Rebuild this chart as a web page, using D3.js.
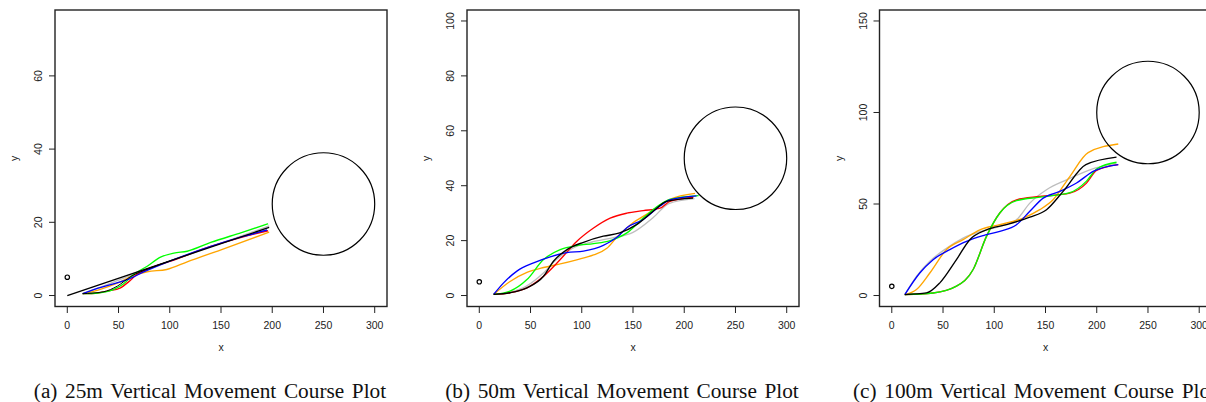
<!DOCTYPE html>
<html>
<head>
<meta charset="utf-8">
<script src="https://cdn.jsdelivr.net/npm/d3@7"></script>
<style>
  body { margin: 0; background: #fff; }
  svg { display: block; }
  .tick-label, .axis-title { font-family: "Liberation Sans", Arial, sans-serif; font-size: 10.5px; fill: #222; }
  .caption { font-family: "Liberation Serif", "Times New Roman", serif; font-size: 21.3px; word-spacing: 2.3px; fill: #111; }
</style>
</head>
<body>
<div id="chart"></div>
<script>
// colours of the runs (R colour names)
const runColors = { gray: "#bebebe", orange: "#ffa500", red: "#ff0000", green: "#00ff00", blue: "#0000ff", black: "#000000" };
const drawOrder = ["gray", "orange", "red", "green", "blue", "black"];

const captions = ["(a) 25m Vertical Movement Course Plot", "(b) 50m Vertical Movement Course Plot", "(c) 100m Vertical Movement Course Plot"];
const xTicks = [0, 50, 100, 150, 200, 250, 300];
const yLimits = [75, 100, 150];
const yTicksA = [0, 20, 40, 60];
const yTicksB = [0, 20, 40, 60, 80, 100];
const yTicksC = [0, 50, 100, 150];
const startPoint = [0, 5];
const targetX = 250;
const targetY = [25, 50, 100];
const targetRadius = 50;

// (a) 25m
const runsA = {
  gray:   [[15,0.5],[30,2],[50,4.2],[80,7.4],[120,11.4],[160,15.3],[197,19.0]],
  orange: [[15,0.5],[30,1.5],[50,3.5],[65,5.5],[78,6.5],[97,7.1],[117,9.2],[150,12.5],[197,17.3]],
  red:    [[15,0.5],[30,0.7],[39,1.2],[52,2.1],[60,3.8],[68,5.8],[80,7.4],[100,9.3],[140,13.4],[170,15.9],[196,17.7]],
  green:  [[15,0.5],[30,0.7],[45,1.6],[55,3.2],[65,5.8],[78,8.0],[91,10.5],[104,11.6],[117,12.1],[140,14.5],[170,17.2],[196,19.6]],
  blue:   [[15,0.5],[30,2.0],[45,3.2],[60,4.5],[75,6.5],[100,9.4],[140,13.4],[170,16.0],[195,17.9]],
  black:  [[0,0],[197,18.6]]
};
const extraBlackA = [[15,0.5],[35,1.0],[49,2.6],[62,5.2],[80,7.4],[100,9.4]];

// (b) 50m
const runsB = {
  gray:   [[14,0.4],[30,1.2],[46,3.4],[62,8],[75,13],[90,17],[110,19.5],[130,21],[150,23],[170,28.5],[185,33.5],[210,35.3]],
  orange: [[14,0.4],[30,5.1],[46.5,8.4],[62.7,10.2],[79,11.5],[95,13.0],[111.5,14.8],[124.5,17.2],[134,21.1],[150,26.5],[166,30.2],[186,35],[210.5,37.2]],
  red:    [[14,0.4],[30,1.0],[46.5,2.8],[62.7,7.0],[79,13.1],[95,19.7],[111.5,24.6],[127.7,28.2],[144,30.0],[160,30.9],[176.4,31.8],[186,34.3],[209,35.8]],
  green:  [[14,0.4],[30,1.6],[46.5,5.8],[62.7,13.1],[79,16.7],[95,18.2],[111.5,18.9],[127.7,20.0],[144,22.8],[160,28.2],[176.4,33.1],[186,35.0],[214,36.4]],
  blue:   [[14,0.4],[23.7,4.6],[36.7,8.9],[53,11.9],[69.2,14.1],[85.5,15.6],[101.7,16.2],[121,18.3],[134,21.1],[144,24.7],[160,27.7],[176.4,32.6],[186,34.8],[212,36.3]],
  black:  [[14,0.4],[30,1.0],[46.5,2.8],[62.7,7.0],[72.4,12.5],[85.5,16.7],[101.7,19.4],[121,21.6],[137,22.8],[153.5,25.8],[169.7,30.7],[182.7,34.3],[208.6,35.5]]
};

// (c) 100m
const runsC = {
  gray:   [[12.7,0.5],[24.1,10.5],[37.1,18.7],[53.4,25.8],[69.6,31.4],[85.9,34.9],[105.4,37.8],[121.7,41.4],[134.7,50.5],[151,57.8],[170.5,63.2],[193.3,68.7],[219.3,72.3]],
  orange: [[12.7,0.5],[24.1,3.3],[37.1,12.3],[53.4,25.1],[69.6,30.5],[85.9,35.9],[105.4,38.7],[128.2,42.3],[144.4,46.9],[157.4,52.3],[173.7,65.0],[191.6,78.1],[221,82.8]],
  red:    [[12.7,0.5],[40.3,1.4],[63.1,5.1],[79.4,14.2],[92.4,32.3],[105.4,45.1],[121.7,52.3],[144.4,54.1],[173.7,55.9],[190,61.4],[199.8,68.3],[221,71.5]],
  green:  [[12.7,0.5],[40.3,1.4],[63.1,5.1],[79.4,14.2],[92.4,32.3],[105.4,45.1],[121.7,51.8],[144.4,53.8],[173.7,56.2],[190,62.5],[199.8,69.1],[219.3,72.8]],
  blue:   [[12.7,0.5],[27.3,12.3],[40.3,19.6],[56.6,25.1],[72.9,29.6],[89.2,32.7],[105.4,35.1],[121.7,38.7],[134.7,46.0],[147.7,53.2],[164,56.9],[180.3,61.5],[196.5,67.8],[221,71.5]],
  black:  [[12.7,0.5],[33.9,1.4],[46.9,6.9],[63.1,19.6],[76.1,30.5],[92.4,35.9],[111.9,38.7],[134.7,42.8],[151,46.9],[167.2,56.9],[189.4,71.5],[219.3,75.6]]
};

const panelRuns = [runsA, runsB, runsC];
const panelYTicks = [yTicksA, yTicksB, yTicksC];
const boxLefts = [55, 467, 879.5];
const boxWidth = 332, boxTop = 10, boxBottom = 306.5;

const svg = d3.select("#chart").append("svg")
  .attr("width", 1206)
  .attr("height", 402);
svg.append("rect").attr("width", 1206).attr("height", 402).attr("fill", "#fff");

panelRuns.forEach((runs, i) => {
  const left = boxLefts[i], right = left + boxWidth;
  const ymax = yLimits[i];
  const x = d3.scaleLinear().domain([-12, 312]).range([left, right]);
  const y = d3.scaleLinear().domain([-0.04 * ymax, 1.04 * ymax]).range([boxBottom, boxTop]);
  const g = svg.append("g");

  const line = d3.line()
    .x(d => x(d[0]))
    .y(d => y(d[1]))
    .curve(d3.curveMonotoneX);

  drawOrder.forEach(name => {
    g.append("path")
      .attr("d", line(runs[name]))
      .attr("fill", "none")
      .attr("stroke", runColors[name])
      .attr("stroke-width", 1.35);
  });
  if (i === 0) {
    g.append("path")
      .attr("d", line(extraBlackA))
      .attr("fill", "none")
      .attr("stroke", runColors.black)
      .attr("stroke-width", 1);
  }

  // target circle, drawn round in screen space
  g.append("circle")
    .attr("cx", x(targetX))
    .attr("cy", y(targetY[i]))
    .attr("r", x(targetRadius) - x(0))
    .attr("fill", "none")
    .attr("stroke", "#000")
    .attr("stroke-width", 1.2);

  // start marker
  g.append("circle")
    .attr("cx", x(startPoint[0]))
    .attr("cy", y(startPoint[1]))
    .attr("r", 2.2)
    .attr("fill", "none")
    .attr("stroke", "#000")
    .attr("stroke-width", 1.2);

  // box
  g.append("rect")
    .attr("x", left).attr("y", boxTop)
    .attr("width", boxWidth).attr("height", boxBottom - boxTop)
    .attr("fill", "none")
    .attr("stroke", "#222")
    .attr("stroke-width", 1.4);

  // x axis
  xTicks.forEach(t => {
    g.append("line")
      .attr("x1", x(t)).attr("x2", x(t))
      .attr("y1", boxBottom).attr("y2", boxBottom + 6.5)
      .attr("stroke", "#222");
    g.append("text")
      .attr("class", "tick-label")
      .attr("x", x(t)).attr("y", 328.5)
      .attr("text-anchor", "middle")
      .text(t);
  });

  // y axis
  panelYTicks[i].forEach(t => {
    g.append("line")
      .attr("x1", left - 6).attr("x2", left)
      .attr("y1", y(t)).attr("y2", y(t))
      .attr("stroke", "#222");
    g.append("text")
      .attr("class", "tick-label")
      .attr("transform", `translate(${left - 13},${y(t)}) rotate(-90)`)
      .attr("text-anchor", "middle")
      .text(t);
  });

  g.append("text")
    .attr("class", "axis-title")
    .attr("x", (left + right) / 2).attr("y", 351)
    .attr("text-anchor", "middle")
    .text("x");
  g.append("text")
    .attr("class", "axis-title")
    .attr("transform", `translate(${left - 37},${(boxTop + boxBottom) / 2}) rotate(-90)`)
    .attr("text-anchor", "middle")
    .text("y");

  g.append("text")
    .attr("class", "caption")
    .attr("x", (left + right) / 2 - 11).attr("y", 398)
    .attr("text-anchor", "middle")
    .text(captions[i]);
});
</script>
</body>
</html>
